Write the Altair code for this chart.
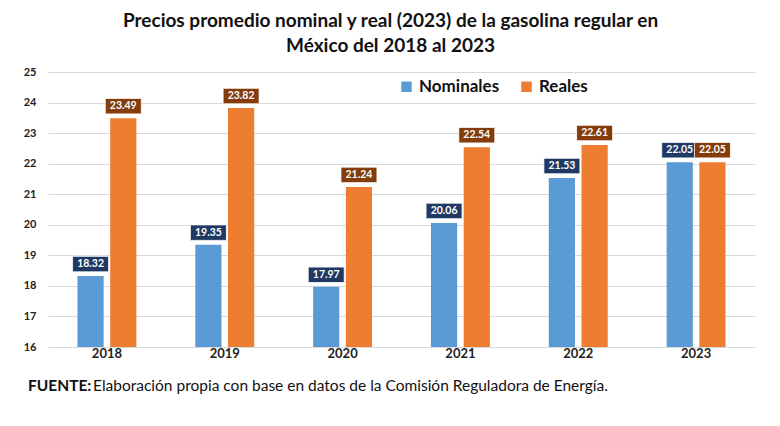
import altair as alt
import pandas as pd

years = ["2018", "2019", "2020", "2021", "2022", "2023"]
nominales = [18.32, 19.35, 17.97, 20.06, 21.53, 22.05]
reales = [23.49, 23.82, 21.24, 22.54, 22.61, 22.05]
series = ["Nominales", "Reales"]
y_ticks = [16, 17, 18, 19, 20, 21, 22, 23, 24, 25]
bar_colors = ["#5B9BD5", "#ED7D31"]
box_colors = ["#1F3864", "#843C0C"]
title_lines = ["Precios promedio nominal y real (2023) de la gasolina regular en",
               "México del 2018 al 2023"]
source_bold = "FUENTE:"
source_text = "Elaboración propia con base en datos de la Comisión Reguladora de Energía."

rows = []
for i, yr in enumerate(years):
    rows.append({"year": yr, "serie": series[0], "valor": nominales[i]})
    rows.append({"year": yr, "serie": series[1], "valor": reales[i]})
df = pd.DataFrame(rows)
df["label"] = df["valor"].map(lambda v: f"{v:.2f}")

FONT = "Lato"

x_enc = alt.X("year:N", sort=years, title=None,
              scale=alt.Scale(paddingInner=0.5, paddingOuter=0.25),
              axis=alt.Axis(labelAngle=0, labelFont=FONT, labelFontWeight="bold",
                            labelFontSize=13, labelColor="#222", ticks=False,
                            domain=False, grid=False, labelPadding=0))
xo_enc = alt.XOffset("serie:N", sort=series,
                     scale=alt.Scale(paddingInner=0.2, paddingOuter=0))
y_enc = alt.Y("valor:Q", scale=alt.Scale(domain=[16, 25], zero=False, nice=False),
              title=None,
              axis=alt.Axis(values=y_ticks, labelFont=FONT,
                            labelFontWeight="bold", labelFontSize=11, labelColor="#222",
                            labelOverlap=False, ticks=False, domain=False,
                            gridColor="#d9d9d9", labelPadding=12))

base = alt.Chart(df)

bars = base.mark_bar().encode(
    x=x_enc,
    xOffset=xo_enc,
    y=y_enc,
    y2=alt.datum(16),
    color=alt.Color("serie:N", sort=series,
                    scale=alt.Scale(domain=series, range=bar_colors),
                    legend=alt.Legend(title=None, orient="none", legendX=350, legendY=6,
                                      direction="horizontal", symbolType="square",
                                      symbolSize=110, labelFont=FONT, labelFontSize=17,
                                      labelFontWeight="bold", labelColor="#111",
                                      columnPadding=18, symbolStrokeWidth=0)),
)

boxes = base.mark_point(
    shape="M-1,-0.43L1,-0.43L1,0.43L-1,0.43Z", filled=True, size=1296,
    opacity=1, yOffset=-12, stroke="#ffffff", strokeWidth=0.8
).encode(
    x=x_enc,
    xOffset=xo_enc,
    y=y_enc,
    fill=alt.Fill("serie:N", sort=series,
                  scale=alt.Scale(domain=series, range=box_colors), legend=None),
)

labels = base.mark_text(
    font=FONT, fontWeight="bold", fontSize=10.5, color="white", dy=-12, baseline="middle"
).encode(
    x=x_enc,
    xOffset=xo_enc,
    y=y_enc,
    text="label:N",
)

one = pd.DataFrame({"a": [0]})
src1 = alt.Chart(one).mark_text(
    text=source_bold, font=FONT, fontWeight="bold", fontSize=15.5, align="left",
    baseline="middle", color="#111"
).encode(x=alt.value(-20), y=alt.value(314))
src2 = alt.Chart(one).mark_text(
    text=source_text, font=FONT, fontSize=15.5, align="left",
    baseline="middle", color="#111"
).encode(x=alt.value(45), y=alt.value(314))

chart = alt.layer(bars, boxes, labels, src1, src2).properties(
    width=707, height=275,
    title=alt.TitleParams(text=title_lines, font=FONT, fontSize=19, fontWeight="bold",
                          color="#111", anchor="middle", dx=-11, offset=10,
                          lineHeight=25),
    autosize=alt.AutoSizeParams(type="none"),
    padding={"left": 40, "top": 64, "right": 17, "bottom": 71},
).configure(background="white").configure_view(stroke=None)

chart.save("out.html", embed_options={"renderer": "svg", "actions": False})
